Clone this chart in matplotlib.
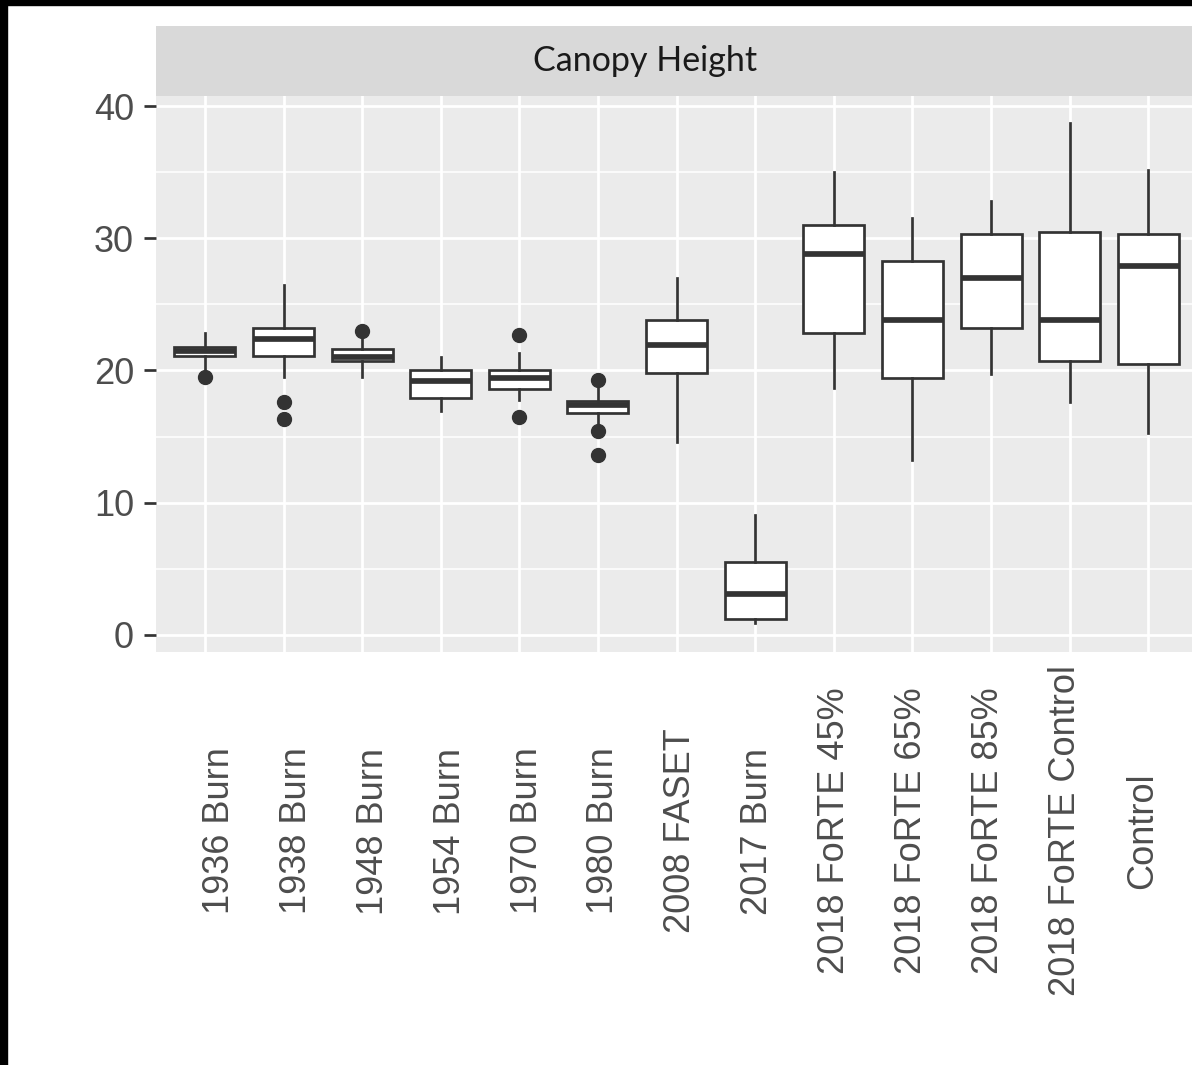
import numpy as np
import matplotlib.pyplot as plt
from matplotlib.patches import Rectangle
from matplotlib.transforms import ScaledTranslation

# box statistics
categories = ['1936 Burn', '1938 Burn', '1948 Burn', '1954 Burn', '1970 Burn',
              '1980 Burn', '2008 FASET', '2017 Burn', '2018 FoRTE 45%',
              '2018 FoRTE 65%', '2018 FoRTE 85%', '2018 FoRTE Control', 'Control']
whislo = [20.1, 19.5, 19.5, 16.9, 17.8, 15.9, 14.6, 0.9, 18.7, 13.2, 19.7, 17.6, 15.3]
q1     = [21.1, 21.1, 20.7, 17.9, 18.6, 16.8, 19.8, 1.2, 22.8, 19.4, 23.2, 20.7, 20.5]
median = [21.5, 22.4, 21.0, 19.2, 19.4, 17.4, 21.9, 3.1, 28.8, 23.8, 27.0, 23.8, 27.9]
q3     = [21.8, 23.2, 21.6, 20.0, 20.0, 17.7, 23.8, 5.5, 31.0, 28.3, 30.3, 30.5, 30.3]
whishi = [22.8, 26.5, 22.4, 21.0, 21.3, 18.7, 27.0, 9.1, 35.0, 31.5, 32.8, 38.7, 35.2]
outliers = [[19.5], [17.6, 16.3], [23.0], [], [22.7, 16.5], [19.3, 15.4, 13.6],
            [], [], [], [], [], [], []]

W, H = 1192, 1065
dark = '#333333'


def px(x0, y0, x1, y1):
    return [x0 / W, 1 - y1 / H, (x1 - x0) / W, (y1 - y0) / H]


fig = plt.figure(figsize=(W / 100, H / 100), dpi=100)
fig.patch.set_facecolor('white')

ax = fig.add_axes(px(156, 96, 1192, 652))
ax.set_facecolor('#EBEBEB')
ax.set_axisbelow(True)

stats = []
for i, name in enumerate(categories):
    stats.append(dict(label=name, med=median[i], q1=q1[i], q3=q3[i],
                      whislo=whislo[i], whishi=whishi[i], fliers=outliers[i]))

ax.bxp(stats, positions=range(len(categories)), widths=0.776,
       showcaps=False, patch_artist=True,
       boxprops=dict(facecolor='white', edgecolor=dark, linewidth=1.95),
       medianprops=dict(color=dark, linewidth=4.1, solid_capstyle='butt'),
       whiskerprops=dict(color=dark, linewidth=1.95),
       flierprops=dict(marker='o', markerfacecolor=dark, markeredgecolor=dark,
                       markersize=10))

ax.set_xlim(-0.623, 12.557)
ax.set_ylim(-1.29, 40.76)
ax.set_yticks([0, 10, 20, 30, 40])
ax.set_yticks([5, 15, 25, 35], minor=True)
ax.set_xticks(range(len(categories)))
ax.set_xticklabels(categories)
ax.grid(which='major', color='white', linewidth=1.95)
ax.grid(which='minor', axis='y', color='white', linewidth=1.1)
for s in ax.spines.values():
    s.set_visible(False)

ax.tick_params(axis='y', which='major', length=8.6, width=1.95, color=dark,
               labelcolor='#4D4D4D', labelsize=26, pad=7.2)
ax.tick_params(axis='y', which='minor', length=0)
ax.tick_params(axis='x', length=0, labelcolor='#4D4D4D', labelsize=26, pad=128.9)
for lab in ax.get_yticklabels():
    lab.set_family('Liberation Sans')
# the rotated labels in the reference drift slightly left of their ticks
for i, lab in enumerate(ax.get_xticklabels()):
    lab.set_family('Liberation Sans')
    lab.set_rotation(90)
    lab.set_va('center')
    lab.set_ha('center')
    dx = (14.5 - 1.7 * i) / 100
    lab.set_transform(lab.get_transform() + ScaledTranslation(dx, 0, fig.dpi_scale_trans))

# facet strip
strip = fig.add_axes(px(156, 26, 1192, 96))
strip.set_facecolor('#D9D9D9')
strip.set_xticks([])
strip.set_yticks([])
for s in strip.spines.values():
    s.set_visible(False)
fig.text(645 / W, 1 - 61 / H, 'Canopy Height', ha='center', va='center',
         family='Lato', fontsize=24.5, color='#1A1A1A')

# black frame on the top and left edges of the screenshot
fig.patches.append(Rectangle((0, 1 - 5 / H), 1, 5 / H, transform=fig.transFigure,
                             color='black', zorder=10))
fig.patches.append(Rectangle((0, 0), 7 / W, 1, transform=fig.transFigure,
                             color='black', zorder=10))

fig.savefig('out.png', dpi=100)
